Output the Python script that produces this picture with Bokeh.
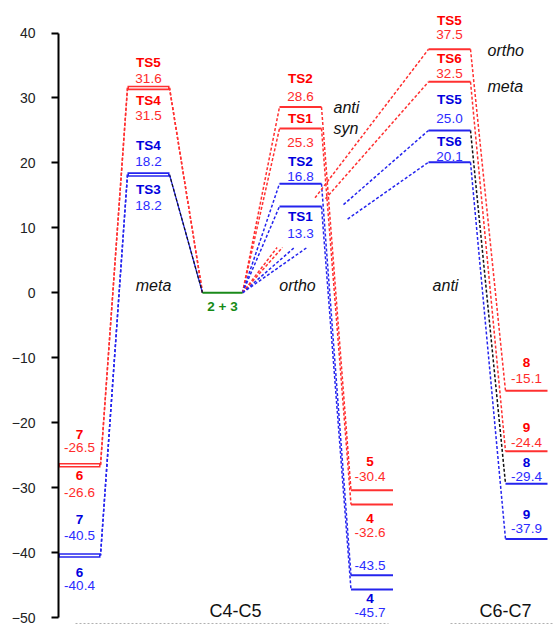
from bokeh.plotting import figure
from bokeh.models import Range1d, FixedTicker, ColumnDataSource
from bokeh.embed import file_html
from bokeh.resources import INLINE
from bokeh.core.properties import value

# ---------------- data (kcal/mol) ----------------
y_ticks = [-50, -40, -30, -20, -10, 0, 10, 20, 30, 40]
series = ["red", "red", "blue", "blue"]

reactant_label = "2 + 3"
reactant_energy = 0.0

meta_ts_names = ["TS5", "TS4", "TS4", "TS3"]
meta_ts_energy = [31.6, 31.5, 18.2, 18.2]

c45_prod_names = ["7", "6", "7", "6"]
c45_prod_energy = [-26.5, -26.6, -40.5, -40.4]

ortho_ts_names = ["TS2", "TS1", "TS2", "TS1"]
ortho_ts_energy = [28.6, 25.3, 16.8, 13.3]
ortho_ts_tags = ["anti", "syn", "", ""]

ortho_prod_names = ["5", "4", "", "4"]
ortho_prod_energy = [-30.4, -32.6, -43.5, -45.7]

c67_ts_names = ["TS5", "TS6", "TS5", "TS6"]
c67_ts_energy = [37.5, 32.5, 25.0, 20.1]
c67_ts_tags = ["ortho", "meta", "", ""]

c67_prod_names = ["8", "9", "8", "9"]
c67_prod_energy = [-15.1, -24.4, -29.4, -37.9]

pathway_labels = ["meta", "ortho", "anti"]
region_labels = ["C4-C5", "C6-C7"]

# ---------------- layout / style ----------------
COL = dict(P1=21, TSm=90, R=164, TSo=242, P2=313.5, TS67=391, P3=468)
HW = 21
RHW = 20
LVL = {"red": "#ff3030", "blue": "#2424ee", "black": "#111111"}
NAMEC = {"red": "#ff0000", "blue": "#0000dd"}
VALC = {"red": "#ff2b2b", "blue": "#2b2bff"}
FONT = value("Liberation Sans")
DASH = "3 2"

# label pixel offsets (name, value) relative to each level line (negative = above)
meta_ts_off = [(-25, -9), (12, 27), (-29, -13), (15, 31)]
c45_prod_off = [(-30, -17), (10, 27), (-36, -20), (17, 30)]
ortho_ts_off = [(-29, -11), (-10, 14), (-22, -7), (10, 27)]
ortho_prod_off = [(-29, -14), (14, 28), (None, -10), (9, 23)]
c67_ts_off = [(-29, -15), (-23, -8), (-31, -12), (-21, -6)]
c67_prod_off = [(-28, -12), (-24, -9), (-21, -7), (-24, -10)]
# fractions along the reactant -> C6-C7 TS connectors where they are hidden
c67_gap = [(0.186, 0.39), (0.215, 0.446), (0.279, 0.543), (0.347, 0.565)]

p = figure(width=555, height=625,
           x_range=Range1d(0, 497), y_range=Range1d(-51.23, 45.01),
           output_backend="svg", toolbar_location=None,
           min_border_left=58, min_border_right=0,
           min_border_top=0, min_border_bottom=0)
p.xaxis.visible = False
p.xgrid.visible = False
p.ygrid.visible = False
p.outline_line_color = None
p.background_fill_color = "white"
p.border_fill_color = "white"

ax = p.yaxis[0]
ax.ticker = FixedTicker(ticks=y_ticks)
ax.bounds = (-50, 40)
ax.axis_line_width = 2
ax.axis_line_color = "black"
ax.major_tick_line_width = 2
ax.major_tick_line_color = "black"
ax.major_tick_in = 0
ax.major_tick_out = 7
ax.minor_tick_line_color = None
ax.major_label_standoff = 16
ax.major_label_text_font = "Liberation Sans"
ax.major_label_text_font_size = "14px"
ax.major_label_text_color = "#222222"

# baseline (light grey dashed)
p.segment(x0=[17, 392], y0=[-50.92, -50.92], x1=[330, 495], y1=[-50.92, -50.92],
          line_color="#b0b0b0", line_width=1, line_dash="2 2")


def dashed(x0, y0, x1, y1, color, width=1.5, dash=DASH):
    p.segment(x0=x0, y0=y0, x1=x1, y1=y1, line_color=color,
              line_width=width, line_dash=dash)


# ---------- connectors ----------
# meta (C4-C5): reactant -> TS (right side)
dashed([COL["R"] - RHW] * 2, [reactant_energy] * 2,
       [COL["TSm"] + HW] * 2, meta_ts_energy[:2], LVL["red"])
p.segment(x0=[COL["R"] - RHW], y0=[reactant_energy], x1=[COL["TSm"] + HW],
          y1=[meta_ts_energy[2]], line_color=LVL["blue"], line_width=1.3)
dashed([COL["R"] - RHW], [reactant_energy], [COL["TSm"] + HW],
       [meta_ts_energy[3]], LVL["black"], width=1.2)
# meta TS (left side) -> products
for e_ts, e_p, s in zip(meta_ts_energy, c45_prod_energy, series):
    dashed([COL["TSm"] - HW], [e_ts], [COL["P1"] + HW], [e_p], LVL[s])

# ortho (C4-C5): reactant -> TS -> products
for e_ts, e_p, s in zip(ortho_ts_energy, ortho_prod_energy, series):
    dashed([COL["R"] + RHW], [reactant_energy], [COL["TSo"] - HW], [e_ts], LVL[s])
    dashed([COL["TSo"] + HW], [e_ts], [COL["P2"] - HW], [e_p], LVL[s])

# C6-C7: reactant -> TS (partly hidden), TS -> products
c67_colors = ["red", "red", "black", "blue"]
for e_ts, e_p, s, c2, (ta, tb) in zip(c67_ts_energy, c67_prod_energy, series,
                                      c67_colors, c67_gap):
    xa, ya = COL["R"] + RHW, reactant_energy
    xb, yb = COL["TS67"] - HW, e_ts
    dashed([xa], [ya], [xa + ta * (xb - xa)], [ya + ta * (yb - ya)], LVL[s])
    dashed([xa + tb * (xb - xa)], [ya + tb * (yb - ya)], [xb], [yb], LVL[s])
    dashed([COL["TS67"] + HW], [e_ts], [COL["P3"] - HW], [e_p], LVL[c2])

# ---------- levels ----------
def level(xc, e, color, hw=HW, width=2):
    p.segment(x0=[xc - hw], y0=[e], x1=[xc + hw], y1=[e],
              line_color=color, line_width=width)


def double_level(xc, e_pair, color):
    m = sum(e_pair) / 2.0
    p.segment(x0=[xc - HW], y0=[m], x1=[xc + HW], y1=[m],
              line_color=color, line_width=4.5)
    p.segment(x0=[xc - HW + 1.5], y0=[m], x1=[xc + HW - 1.5], y1=[m],
              line_color="white", line_width=1.4)


double_level(COL["TSm"], meta_ts_energy[:2], LVL["red"])
double_level(COL["TSm"], meta_ts_energy[2:], LVL["blue"])
double_level(COL["P1"], c45_prod_energy[:2], LVL["red"])
double_level(COL["P1"], c45_prod_energy[2:], LVL["blue"])
level(COL["R"], reactant_energy, "#1a8a1a", hw=RHW, width=2)
for e, s in zip(ortho_ts_energy, series):
    level(COL["TSo"], e, LVL[s])
for e, s in zip(ortho_prod_energy, series):
    level(COL["P2"], e, LVL[s])
for e, s in zip(c67_ts_energy, series):
    level(COL["TS67"], e, LVL[s])
for e, s in zip(c67_prod_energy, series):
    level(COL["P3"], e, LVL[s])

# ---------- labels ----------
names = dict(x=[], y=[], text=[], off=[], color=[])
vals = dict(x=[], y=[], text=[], off=[], color=[])


def add_labels(xc, nm_list, en_list, off_list, x_shift=0):
    for nm, e, (on, ov), s in zip(nm_list, en_list, off_list, series):
        if nm and on is not None:
            names["x"].append(xc + x_shift); names["y"].append(e)
            names["text"].append(nm); names["off"].append(on)
            names["color"].append(NAMEC[s])
        vals["x"].append(xc + x_shift); vals["y"].append(e)
        vals["text"].append(f"{e:.1f}"); vals["off"].append(ov)
        vals["color"].append(VALC[s])


add_labels(COL["TSm"], meta_ts_names, meta_ts_energy, meta_ts_off)
add_labels(COL["P1"], c45_prod_names, c45_prod_energy, c45_prod_off)
add_labels(COL["TSo"], ortho_ts_names, ortho_ts_energy, ortho_ts_off)
add_labels(COL["P2"], ortho_prod_names, ortho_prod_energy, ortho_prod_off, x_shift=-2)
add_labels(COL["TS67"], c67_ts_names, c67_ts_energy, c67_ts_off)
add_labels(COL["P3"], c67_prod_names, c67_prod_energy, c67_prod_off)

p.text(x="x", y="y", text="text", y_offset="off", text_color="color",
       source=ColumnDataSource(names), text_align="center",
       text_baseline="middle", text_font=FONT, text_font_size="13.5px",
       text_font_style="bold")
p.text(x="x", y="y", text="text", y_offset="off", text_color="color",
       source=ColumnDataSource(vals), text_align="center",
       text_baseline="middle", text_font=FONT, text_font_size="13.5px")

# reactant label
p.text(x=[COL["R"]], y=[reactant_energy], text=[reactant_label], y_offset=14,
       text_align="center", text_baseline="middle", text_font=FONT,
       text_font_size="13.5px", text_font_style="bold", text_color="#158a15")

# conformation tags next to TS levels
tag_x, tag_y, tag_t, tag_off = [], [], [], []
for t, e in zip(ortho_ts_tags, ortho_ts_energy):
    if t:
        tag_x.append(COL["TSo"] + HW + 12); tag_y.append(e); tag_t.append(t); tag_off.append(0)
for t, e, o in zip(c67_ts_tags, c67_ts_energy, [1, 5, 0, 0]):
    if t:
        tag_x.append(COL["TS67"] + HW + 17); tag_y.append(e); tag_t.append(t); tag_off.append(o)
p.text(x="x", y="y", text="t", y_offset="o",
       source=ColumnDataSource(dict(x=tag_x, y=tag_y, t=tag_t, o=tag_off)),
       text_align="left", text_baseline="middle", text_font=FONT,
       text_font_size="16px", text_font_style="italic", text_color="#111111")

# pathway labels
p.text(x=[COL["TSm"] + 5, COL["TSo"] - 3, COL["TS67"] - 4], y=[reactant_energy] * 3,
       text=pathway_labels, y_offset=-7, text_align="center",
       text_baseline="middle", text_font=FONT, text_font_size="16px",
       text_font_style="italic", text_color="#111111")

# region labels
p.text(x=[COL["R"] + 13, COL["P3"] - 21], y=[-50, -50], text=region_labels,
       y_offset=-7, text_align="center", text_baseline="middle",
       text_font=FONT, text_font_size="18px", text_color="#111111")

open("out.html", "w").write(file_html(p, INLINE))
